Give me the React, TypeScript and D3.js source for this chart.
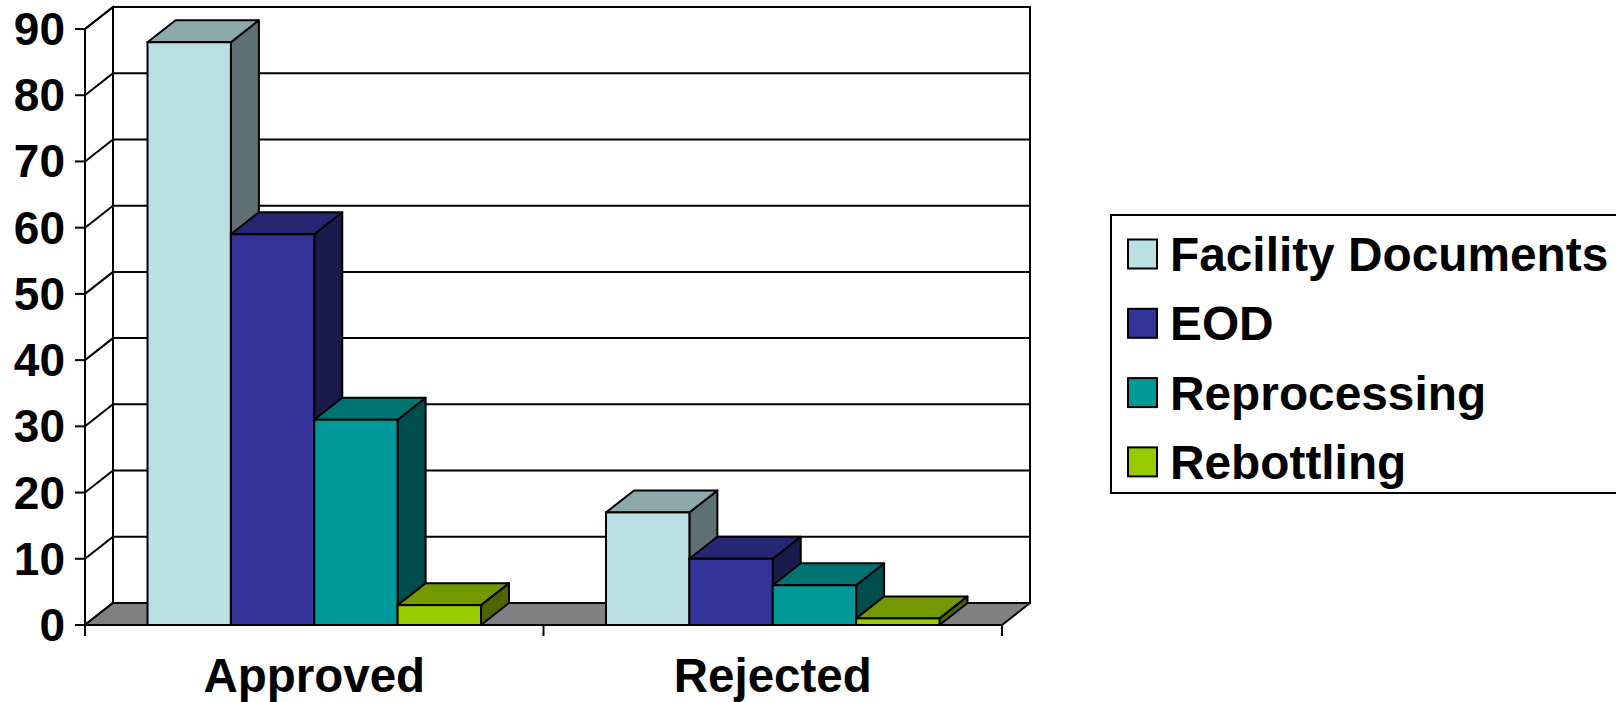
import React from "react";
import * as d3 from "d3";

const categories = ["Approved", "Rejected"];
const seriesNames = ["Facility Documents", "EOD", "Reprocessing", "Rebottling"];
const facilityDocuments = [88, 17];
const eod = [59, 10];
const reprocessing = [31, 6];
const rebottling = [3, 1];
const seriesValues = [facilityDocuments, eod, reprocessing, rebottling];
const frontColors = ["#BBE0E3", "#333399", "#009999", "#99CC00"];
const yTicks = [0, 10, 20, 30, 40, 50, 60, 70, 80, 90];

const W = 1616;
const H = 702;
const FONT = "'Liberation Sans', Arial, Helvetica, sans-serif";

export default function App() {
  const left = 85;
  const right = 1002;
  const bottom = 625;
  const top = 29;
  const dx = 28;
  const dy = -22;

  const y = d3.scaleLinear().domain([0, 90]).range([bottom, top]);
  const x0 = d3.scaleBand<string>().domain(categories).range([left, right]).padding(0);
  const x1 = d3
    .scaleBand<string>()
    .domain(seriesNames)
    .range([0, x0.bandwidth()])
    .paddingInner(0)
    .paddingOuter(0.75);

  const shade = (c: string, k: number) => {
    const rgb = d3.rgb(c);
    return d3.rgb(rgb.r * k, rgb.g * k, rgb.b * k).formatHex();
  };

  const pts = (arr: [number, number][]) => arr.map((p) => p.join(",")).join(" ");

  const stroke = "#000";
  const sw = 2;

  const bars: React.ReactNode[] = [];
  categories.forEach((cat, ci) => {
    seriesNames.forEach((s, si) => {
      const v = seriesValues[si][ci];
      const xa = (x0(cat) as number) + (x1(s) as number);
      const xb = xa + x1.bandwidth();
      const yt = y(v);
      const yb = y(0);
      const c = frontColors[si];
      bars.push(
        <g key={cat + s}>
          <polygon
            points={pts([
              [xb, yt],
              [xb + dx, yt + dy],
              [xb + dx, yb + dy],
              [xb, yb],
            ])}
            fill={shade(c, 0.5)}
            stroke={stroke}
            strokeWidth={sw}
            strokeLinejoin="round"
          />
          <polygon
            points={pts([
              [xa, yt],
              [xb, yt],
              [xb + dx, yt + dy],
              [xa + dx, yt + dy],
            ])}
            fill={shade(c, 0.75)}
            stroke={stroke}
            strokeWidth={sw}
            strokeLinejoin="round"
          />
          <rect
            x={xa}
            y={yt}
            width={xb - xa}
            height={yb - yt}
            fill={c}
            stroke={stroke}
            strokeWidth={sw}
          />
        </g>
      );
    });
  });

  const legendX = 1111;
  const legendY = 215;
  const legendRow = 69.3;

  return (
    <svg
      width={W}
      height={H}
      style={{ position: "absolute", left: 0, top: 0, background: "#fff" }}
      fontFamily={FONT}
      fontWeight="bold"
    >
      <rect x={0} y={0} width={W} height={H} fill="#fff" />
      {/* back wall */}
      <rect
        x={left + dx}
        y={top + dy}
        width={right - left}
        height={bottom - top}
        fill="#fff"
        stroke={stroke}
        strokeWidth={sw}
      />
      {/* left wall */}
      <polygon
        points={pts([
          [left, top],
          [left + dx, top + dy],
          [left + dx, bottom + dy],
          [left, bottom],
        ])}
        fill="#fff"
        stroke={stroke}
        strokeWidth={sw}
      />
      {/* gridlines */}
      {yTicks.map((t) => (
        <g key={"g" + t}>
          <line
            x1={left}
            y1={y(t)}
            x2={left + dx}
            y2={y(t) + dy}
            stroke={stroke}
            strokeWidth={sw}
          />
          <line
            x1={left + dx}
            y1={y(t) + dy}
            x2={right + dx}
            y2={y(t) + dy}
            stroke={stroke}
            strokeWidth={sw}
          />
        </g>
      ))}
      {/* floor */}
      <polygon
        points={pts([
          [left, bottom],
          [left + dx, bottom + dy],
          [right + dx, bottom + dy],
          [right, bottom],
        ])}
        fill="#808080"
        stroke={stroke}
        strokeWidth={sw}
        strokeLinejoin="round"
      />
      {bars}
      {/* axes */}
      <line x1={left} y1={top} x2={left} y2={bottom + 11} stroke={stroke} strokeWidth={sw} />
      <line x1={left - 10} y1={bottom} x2={right} y2={bottom} stroke={stroke} strokeWidth={sw} />
      {yTicks.map((t) => (
        <g key={"t" + t}>
          <line x1={left - 10} y1={y(t)} x2={left} y2={y(t)} stroke={stroke} strokeWidth={sw} />
          <text x={left - 20} y={y(t) + 16} textAnchor="end" fontSize={46} fill="#000">
            {t}
          </text>
        </g>
      ))}
      {categories.map((c) => (
        <line
          key={"xt" + c}
          x1={(x0(c) as number) + x0.bandwidth()}
          y1={bottom}
          x2={(x0(c) as number) + x0.bandwidth()}
          y2={bottom + 11}
          stroke={stroke}
          strokeWidth={sw}
        />
      ))}
      {categories.map((c) => (
        <text
          key={"xl" + c}
          x={(x0(c) as number) + x0.bandwidth() / 2}
          y={692}
          textAnchor="middle"
          fontSize={47.5}
          fill="#000"
        >
          {c}
        </text>
      ))}
      {/* legend */}
      <rect
        x={legendX}
        y={legendY}
        width={W - legendX + 20}
        height={493 - legendY}
        fill="#fff"
        stroke={stroke}
        strokeWidth={sw}
      />
      {seriesNames.map((s, i) => {
        const cy = 254 + i * legendRow;
        return (
          <g key={"lg" + s}>
            <rect
              x={1128}
              y={cy - 14.5}
              width={29}
              height={29}
              fill={frontColors[i]}
              stroke={stroke}
              strokeWidth={sw}
            />
            <text x={1170} y={cy + 17} fontSize={47.8} fill="#000">
              {s}
            </text>
          </g>
        );
      })}
    </svg>
  );
}
